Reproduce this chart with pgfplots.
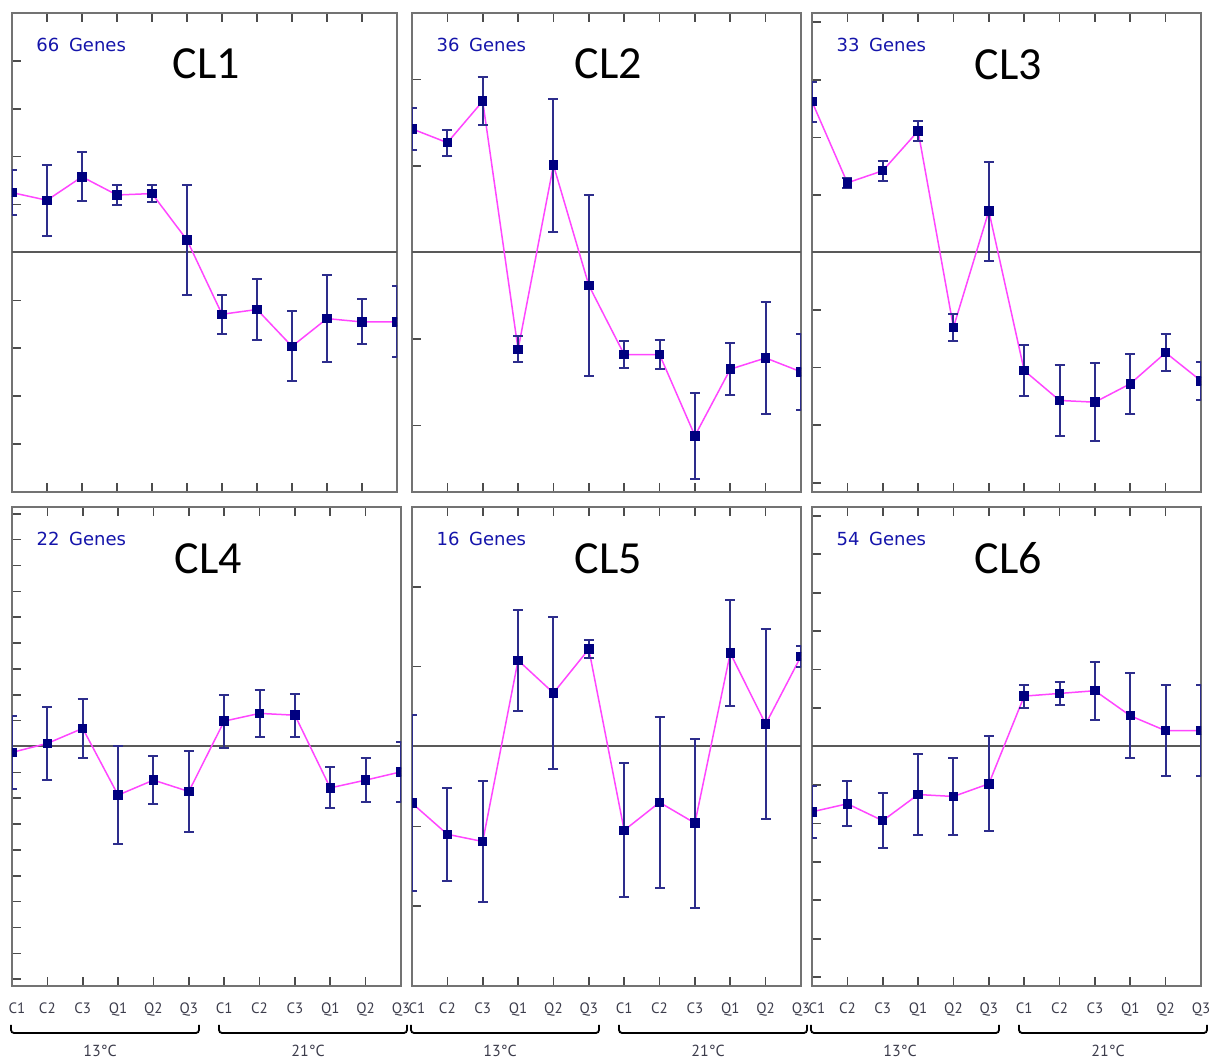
\documentclass[border=0pt]{standalone}
\usepackage{fontspec}
\setmainfont{PT Sans}
\newfontfamily\clfont{Carlito}
\newfontfamily\genefont{DejaVu Sans}
\usepackage{pgfplots}
\usepackage{pgfplotstable}
\pgfplotsset{compat=1.18}

\definecolor{linemag}{RGB}{255,70,255}
\definecolor{marknavy}{RGB}{0,0,128}
\definecolor{errblue}{RGB}{45,45,140}
\definecolor{genesblue}{RGB}{20,20,170}
\definecolor{labgray}{RGB}{60,60,75}
\definecolor{framegray}{RGB}{115,115,115}

% x = 0..11 : C1 C2 C3 Q1 Q2 Q3 (13C), C1 C2 C3 Q1 Q2 Q3 (21C); e = error bar half length
\pgfplotstableread{
x y e
0 1.25 0.47
1 1.09 0.74
2 1.58 0.51
3 1.20 0.21
4 1.23 0.18
5 0.26 1.15
6 -1.29 0.41
7 -1.19 0.64
8 -1.96 0.73
9 -1.38 0.91
10 -1.45 0.47
11 -1.45 0.74
}\clA
\pgfplotstableread{
x y e
0 1.43 0.24
1 1.27 0.15
2 1.75 0.28
3 -1.12 0.15
4 1.01 0.77
5 -0.38 1.05
6 -1.18 0.16
7 -1.18 0.17
8 -2.12 0.50
9 -1.35 0.30
10 -1.22 0.65
11 -1.38 0.44
}\clB
\pgfplotstableread{
x y e
0 2.62 0.35
1 1.21 0.09
2 1.42 0.17
3 2.11 0.18
4 -1.30 0.23
5 0.72 0.86
6 -2.05 0.44
7 -2.57 0.61
8 -2.60 0.68
9 -2.28 0.52
10 -1.74 0.32
11 -2.23 0.33
}\clC
\pgfplotstableread{
x y e
0 -0.23 1.41
1 0.12 1.40
2 0.70 1.14
3 -1.88 1.88
4 -1.30 0.93
5 -1.74 1.55
6 0.98 1.03
7 1.28 0.92
8 1.21 0.83
9 -1.60 0.79
10 -1.30 0.86
11 -0.98 1.17
}\clD
\pgfplotstableread{
x y e
0 -0.71 1.10
1 -1.10 0.58
2 -1.19 0.76
3 1.08 0.63
4 0.67 0.95
5 1.22 0.11
6 -1.05 0.84
7 -0.70 1.07
8 -0.96 1.06
9 1.17 0.66
10 0.28 1.19
11 1.13 0.13
}\clE
\pgfplotstableread{
x y e
0 -1.70 0.68
1 -1.49 0.58
2 -1.93 0.71
3 -1.25 1.05
4 -1.30 1.01
5 -0.97 1.24
6 1.31 0.30
7 1.38 0.29
8 1.45 0.76
9 0.80 1.11
10 0.41 1.19
11 0.41 1.19
}\clF

\pgfplotsset{
  panel/.style={
    scale only axis, width=194.5pt, height=239.5pt,
    xmin=0, xmax=11, xtick={0,...,11},
    xticklabels={}, yticklabels={},
    xtick pos=both, ytick pos=left,
    tick align=inside, major tick length=4.5pt,
    axis line style={draw=framegray, line width=0.9pt},
    tick style={draw=black!70, line width=0.8pt},
    clip marker paths=true,
  },
  bottomrow/.style={
    % end labels pulled inwards, as in the original
    xticklabels={\hspace{5pt}C1,C2,C3,Q1,Q2,Q3,C1,C2,C3,Q1,Q2,Q3\hspace{5pt}},
    xticklabel style={font=\fontsize{7.5}{9}\selectfont, text=labgray, yshift=-5pt},
  },
  series/.style={
    color=linemag, line width=0.75pt, mark=square*, mark size=2pt,
    mark options={draw=marknavy, fill=marknavy},
    /pgfplots/error bars/y dir=both,
    /pgfplots/error bars/y explicit,
    /pgfplots/error bars/error bar style={draw=errblue, line width=1pt},
    /pgfplots/error bars/error mark options={rotate=90, draw=errblue, line width=1pt, mark size=2.5pt},
  },
  zeroline/.style={no marks, draw=black!65, line width=1pt, forget plot},
}
\newcommand{\cltitle}[2]{%
  \node[font=\clfont\fontsize{23}{23}\selectfont] at (rel axis cs:0.505,0.893) {#1};
  \node[anchor=west, font=\genefont\fontsize{9}{9}\selectfont, text=genesblue] at (rel axis cs:0.045,0.933) {#2\hspace{2pt} Genes};
}

\begin{document}
\begin{tikzpicture}
\path[use as bounding box] (0,0) rectangle (610.5pt,532pt);

\begin{axis}[panel, width=192.5pt, at={(6pt,286pt)}, anchor=south west,
  ymin=-5, ymax=5, ytick={-4,...,4}]
\addplot[zeroline] coordinates {(0,0) (11,0)};
\addplot[series] table[x=x, y=y, y error=e] {\clA};
\cltitle{CL1}{66}
\end{axis}

\begin{axis}[panel, at={(206pt,286pt)}, anchor=south west,
  ymin=-2.77, ymax=2.77, ytick={-2,...,2}]
\addplot[zeroline] coordinates {(0,0) (11,0)};
\addplot[series] table[x=x, y=y, y error=e] {\clB};
\cltitle{CL2}{36}
\end{axis}

\begin{axis}[panel, at={(406pt,286pt)}, anchor=south west,
  ymin=-4.16, ymax=4.16, ytick={-4,...,4}]
\addplot[zeroline] coordinates {(0,0) (11,0)};
\addplot[series] table[x=x, y=y, y error=e] {\clC};
\cltitle{CL3}{33}
\end{axis}

\begin{axis}[panel, bottomrow, at={(6pt,39pt)}, anchor=south west,
  ymin=-9.26, ymax=9.26, ytick={-9,...,9},
  axis line style={draw=framegray, line width=0.9pt}]
\addplot[zeroline] coordinates {(0,0) (11,0)};
\addplot[series] table[x=x, y=y, y error=e] {\clD};
\cltitle{CL4}{22}
\end{axis}

\begin{axis}[panel, bottomrow, at={(206pt,39pt)}, anchor=south west,
  ymin=-3, ymax=3, ytick={-2,...,2}]
\addplot[zeroline] coordinates {(0,0) (11,0)};
\addplot[series] table[x=x, y=y, y error=e] {\clE};
\cltitle{CL5}{16}
\end{axis}

\begin{axis}[panel, bottomrow, at={(406pt,39pt)}, anchor=south west,
  ymin=-6.23, ymax=6.23, ytick={-6,...,6}]
\addplot[zeroline] coordinates {(0,0) (11,0)};
\addplot[series] table[x=x, y=y, y error=e] {\clF};
\cltitle{CL6}{54}
\end{axis}

% temperature brackets under the bottom row
\foreach \L in {6,206,406} {
  \draw[black, line width=0.9pt, rounded corners=1.5pt]
    (\L pt-0.5pt,19.5pt) -- (\L pt-0.5pt,15.5pt) -- (\L pt+93.5pt,15.5pt) -- (\L pt+93.5pt,19.5pt);
  \draw[black, line width=0.9pt, rounded corners=1.5pt]
    (\L pt+103.5pt,19.5pt) -- (\L pt+103.5pt,15.5pt) -- (\L pt+197.5pt,15.5pt) -- (\L pt+197.5pt,19.5pt);
  \node[font=\fontsize{8}{9}\selectfont, text=labgray] at (\L pt+44pt,6.5pt) {13°C};
  \node[font=\fontsize{8}{9}\selectfont, text=labgray] at (\L pt+148pt,6.5pt) {21°C};
}
\end{tikzpicture}
\end{document}
